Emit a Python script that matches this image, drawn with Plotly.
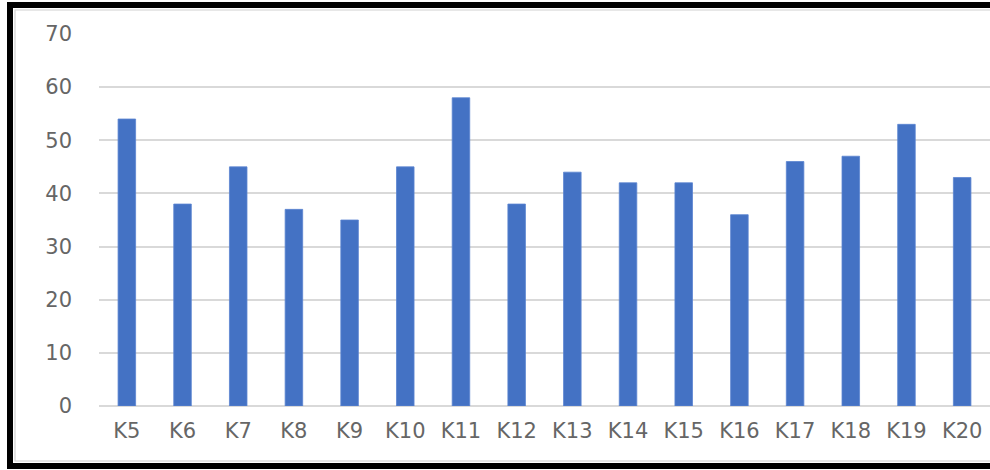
import plotly.graph_objects as go

categories = ["K5", "K6", "K7", "K8", "K9", "K10", "K11", "K12",
              "K13", "K14", "K15", "K16", "K17", "K18", "K19", "K20"]
values = [54, 38, 45, 37, 35, 45, 58, 38, 44, 42, 42, 36, 46, 47, 53, 43]
y_ticks = [0, 10, 20, 30, 40, 50, 60, 70]

W, H = 990, 470
L, R, T, B = 99, 0, 34, 64
PW, PH = W - L - R, H - T - B


def px(x):
    return (x - L) / PW


def py(y):
    return (H - B - y) / PH


fig = go.Figure(
    go.Bar(
        x=categories,
        y=values,
        marker=dict(color="#4472C4", line=dict(color="#5a84d0", width=0.8)),
    )
)

shapes = [
    # thin inner frame of the chart area
    dict(type="path", xref="paper", yref="paper",
         path=f"M {px(1005)} {py(10)} L {px(15)} {py(10)} L {px(15)} {py(461)} L {px(1005)} {py(461)}",
         line=dict(color="#d0d0d0", width=1.2)),
    # heavy black outline
    dict(type="path", xref="paper", yref="paper",
         path=f"M {px(1005)} {py(5)} L {px(10)} {py(5)} L {px(10)} {py(466)} L {px(1005)} {py(466)}",
         line=dict(color="#000000", width=6)),
]

label_font = dict(family="DejaVu Sans", size=21, color="#666666")

fig.update_layout(
    width=W, height=H,
    margin=dict(l=L, r=R, t=T, b=B, pad=0),
    paper_bgcolor="white",
    plot_bgcolor="white",
    bargap=0.685,
    showlegend=False,
    shapes=shapes,
    font=label_font,
    xaxis=dict(
        showgrid=False, showline=False, zeroline=False,
        ticks="", ticklabelstandoff=10,
        tickfont=label_font,
    ),
    yaxis=dict(
        range=[0, 70], tickvals=y_ticks,
        showgrid=True, gridcolor="#d9d9d9", gridwidth=1.6,
        zeroline=True, zerolinecolor="#d9d9d9", zerolinewidth=1.6,
        showline=False, ticks="", ticklabelstandoff=26,
        tickfont=label_font,
    ),
)

fig.write_html("out.html")
